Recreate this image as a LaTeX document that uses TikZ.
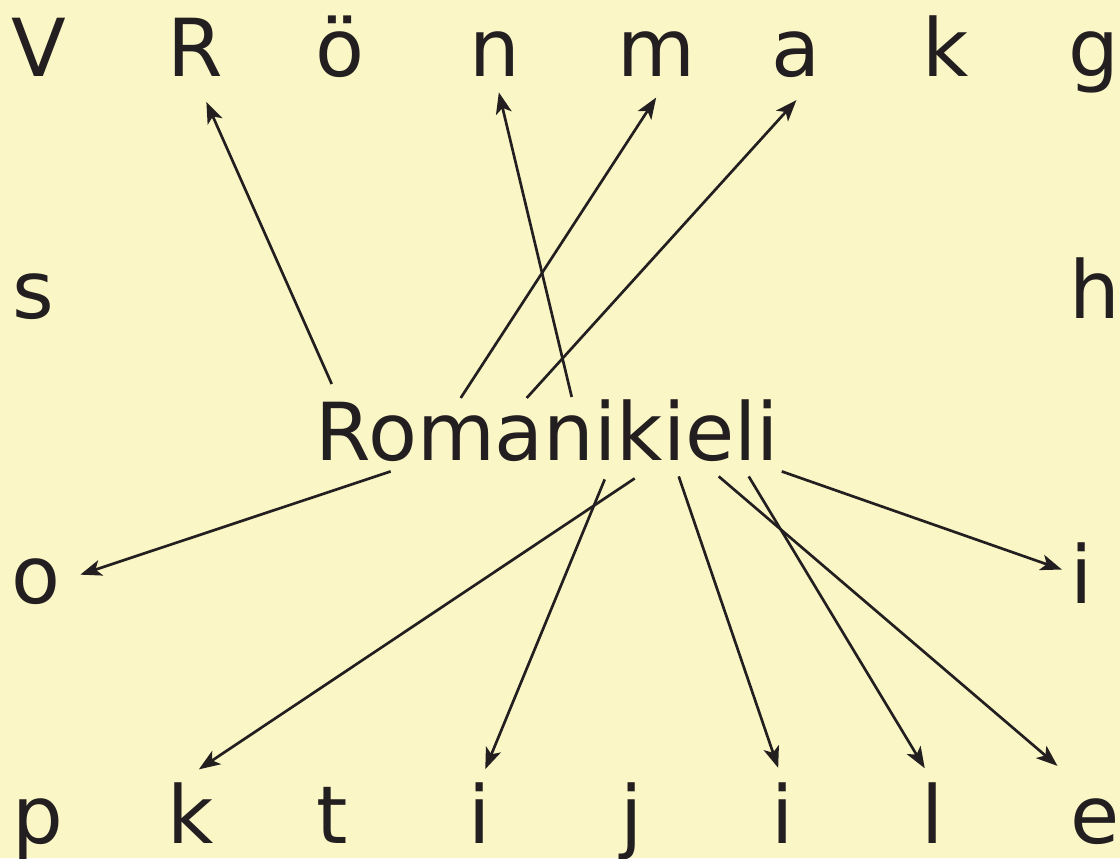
\documentclass[tikz,border=0pt]{standalone}
\usepackage{fontspec}
\setmainfont{DejaVu Sans}
\usetikzlibrary{arrows.meta}

\definecolor{paper}{HTML}{FAF6C6}
\definecolor{ink}{HTML}{231F20}

\tikzset{
  letter/.style={inner sep=0pt, anchor=base, text=ink,
                 font=\fontsize{60}{72}\selectfont},
  link/.style={draw=ink, line width=2pt,
               -{Stealth[length=16pt, width=12pt, inset=4pt]}},
}

\begin{document}
\begin{tikzpicture}[x=0.75pt, y=-0.75pt]
  \fill[paper] (0,0) rectangle (1120,858);
  \useasboundingbox (0,0) rectangle (1120,858);

  % top row
  \node[letter] (V)  at (39,76)   {V};
  \node[letter] (R)  at (195,76)  {R};
  \node[letter] (oe) at (340,76)  {ö};
  \node[letter] (n)  at (495,76)  {n};
  \node[letter] (m)  at (656,76)  {m};
  \node[letter] (a)  at (796,76)  {a};
  \node[letter] (kt) at (946,76)  {k};
  \node[letter] (g)  at (1094,76) {g};

  % sides
  \node[letter] (s)  at (33,318)   {s};
  \node[letter] (h)  at (1095,318) {h};
  \node[letter] (o)  at (36,603)   {o};
  \node[letter] (ir) at (1082,603) {i};

  % bottom row
  \node[letter] (p)  at (38,843)   {p};
  \node[letter] (kb) at (191,843)  {k};
  \node[letter] (t)  at (332,843)  {t};
  \node[letter] (ia) at (480,843)  {i};
  \node[letter] (j)  at (632,843)  {j};
  \node[letter] (ib) at (783,843)  {i};
  \node[letter] (l)  at (933,843)  {l};
  \node[letter] (e)  at (1095,843) {e};

  \node[letter] (word) at (547.5,460) {Romanikieli};

  % up
  \draw[link, shorten >=21pt] ([shift={(16,-15)}]word.north west) -- (R.south);
  \draw[link, shorten >=12.4pt] ([shift={(256,-2)}]word.north west) -- (n.south);
  \draw[link, shorten >=19pt] ([shift={(145,-1)}]word.north west) -- ([shift={(14,0)}]m.south);
  \draw[link, shorten >=23pt] ([shift={(211,-1)}]word.north west) -- ([shift={(21,0)}]a.south);

  % down
  \draw[link, shorten >=15.5pt] ([shift={(75,10)}]word.south west) -- (o.east);
  \draw[link, shorten >=17pt] ([shift={(319,17)}]word.south west) -- ([shift={(-11,0)}]kb.north);
  \draw[link, shorten >=10.4pt] ([shift={(289,18)}]word.south west) -- (ia.north);
  \draw[link, shorten >=11.2pt] ([shift={(363,15)}]word.south west) -- (ib.north);
  \draw[link, shorten >=12pt] ([shift={(433,15)}]word.south west) -- (l.north);
  \draw[link, shorten >=37pt] ([shift={(403,15)}]word.south west) -- (e.north);
  \draw[link, shorten >=7pt] ([shift={(466,10)}]word.south west) -- (ir.west);
\end{tikzpicture}
\end{document}
